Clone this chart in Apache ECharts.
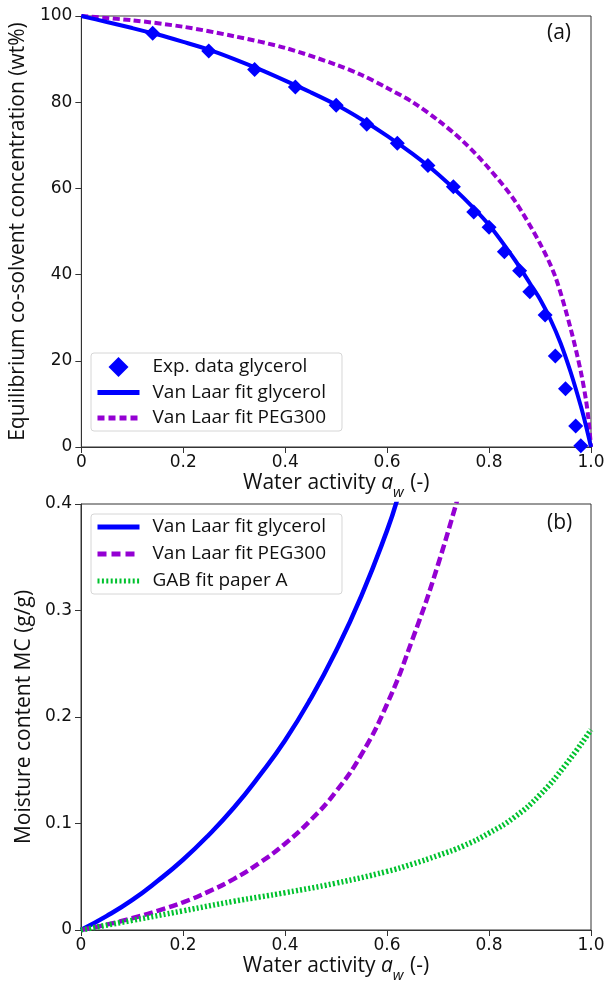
<!DOCTYPE html>
<html>
<head>
<meta charset="utf-8">
<script src="https://cdn.jsdelivr.net/npm/echarts@6/dist/echarts.min.js"></script>
<style>html,body{margin:0;padding:0;background:#fff;}#c{width:608px;height:984px;}</style>
</head>
<body>
<div id="c"></div>
<script>
// ---------- Panel (a) data ----------
const expAw   = [0.14, 0.25, 0.34, 0.42, 0.50, 0.56, 0.62, 0.68, 0.73, 0.77, 0.80, 0.83, 0.86, 0.88, 0.91, 0.93, 0.95, 0.97, 0.98];
const expConc = [96.0, 91.9, 87.6, 83.5, 79.3, 74.9, 70.5, 65.3, 60.4, 54.5, 51.0, 45.3, 40.9, 36.0, 30.6, 21.1, 13.5, 4.9, 0.3];

const fitGlyAw   = [0, 0.05, 0.1, 0.15, 0.2, 0.25, 0.3, 0.35, 0.4, 0.45, 0.5, 0.55, 0.6, 0.65, 0.7, 0.75, 0.8, 0.85, 0.88, 0.9, 0.92, 0.94, 0.96, 0.98, 0.99, 1.0];
const fitGlyConc = [100, 98.6, 97.2, 95.7, 94.0, 92.2, 90.0, 87.6, 85.0, 82.3, 79.4, 76.0, 72.2, 68.0, 63.3, 57.8, 51.5, 43.5, 38.0, 34.3, 29.7, 24.2, 17.4, 9.5, 5.0, 0];

const fitPegAw   = [0, 0.1, 0.2, 0.3, 0.4, 0.5, 0.55, 0.6, 0.65, 0.7, 0.75, 0.8, 0.85, 0.9, 0.93, 0.96, 0.98, 0.99, 0.995, 1.0];
const fitPegConc = [100, 99.0, 97.5, 95.3, 92.6, 88.7, 86.3, 83.3, 80.0, 75.8, 70.8, 64.6, 57.2, 47.2, 39.5, 27.5, 17.5, 11.0, 6.5, 0];

// ---------- Panel (b) data ----------
const mcGlyAw = [0, 0.05, 0.1, 0.15, 0.2, 0.25, 0.3, 0.35, 0.4, 0.45, 0.5, 0.55, 0.6, 0.62];
const mcGly   = [0, 0.013, 0.028, 0.046, 0.066, 0.089, 0.115, 0.145, 0.178, 0.217, 0.262, 0.314, 0.375, 0.404];

const mcPegAw = [0, 0.05, 0.1, 0.15, 0.2, 0.25, 0.3, 0.35, 0.4, 0.45, 0.5, 0.55, 0.6, 0.65, 0.7, 0.75];
const mcPeg   = [0, 0.005, 0.011, 0.018, 0.026, 0.036, 0.048, 0.063, 0.081, 0.103, 0.130, 0.165, 0.212, 0.273, 0.343, 0.425];

const mcGabAw = [0, 0.1, 0.2, 0.3, 0.35, 0.4, 0.5, 0.6, 0.65, 0.7, 0.75, 0.8, 0.85, 0.9, 0.95, 1.0];
const mcGab   = [0, 0.009, 0.018, 0.027, 0.031, 0.035, 0.044, 0.055, 0.062, 0.070, 0.079, 0.091, 0.106, 0.127, 0.155, 0.188];

// ---------- ticks / labels ----------
const xTicks = ['0', '0.2', '0.4', '0.6', '0.8', '1.0'];
const yTicksA = ['0', '20', '40', '60', '80', '100'];
const yTicksB = ['0', '0.1', '0.2', '0.3', '0.4'];
const nameExp = 'Exp. data glycerol';
const nameGly = 'Van Laar fit glycerol';
const namePeg = 'Van Laar fit PEG300';
const nameGab = 'GAB fit paper A';

const zip = (a, b) => a.map((v, i) => [v, b[i]]);

const BLUE = '#0000ff', PURPLE = '#9400d3', GREEN = '#00c22e';
const AX = '#333';
const tickFont = 'DejaVu Sans';
const textFont = 'Open Sans';
const DIAMOND = 'path://M0,-10L10,0L0,10L-10,0Z';

const xName = '{n|Water activity }{i|a}{s|w}{n| (-)}';
const xNameStyle = {
  color: '#111',
  rich: {
    n: {fontFamily: textFont, fontSize: 21, color: '#111', lineHeight: 26},
    i: {fontFamily: textFont, fontSize: 21, fontStyle: 'italic', color: '#111', lineHeight: 26},
    s: {fontFamily: textFont, fontSize: 15, fontStyle: 'italic', color: '#111', lineHeight: 26, verticalAlign: 'bottom', padding: [0, 1, -4, 0]}
  }
};

function xAxisCfg(gi) {
  return {
    type: 'value', gridIndex: gi, min: 0, max: 1, interval: 0.2,
    name: xName, nameLocation: 'middle', nameGap: 23, nameTextStyle: xNameStyle,
    axisLine: {show: true, lineStyle: {color: AX, width: 1}},
    axisTick: {show: true, length: 6, lineStyle: {color: AX}},
    axisLabel: {margin: 7, fontFamily: tickFont, fontSize: 17, color: '#111',
      formatter: v => xTicks[Math.round(v / 0.2)]},
    splitLine: {show: false}
  };
}

const legendBase = {
  orient: 'vertical', left: 91,
  backgroundColor: '#fff', borderColor: '#d6d6d6', borderWidth: 1, borderRadius: 3,
  itemWidth: 42, itemHeight: 20,
  selectedMode: false,
  textStyle: {fontFamily: textFont, fontSize: 19, color: '#111', lineHeight: 22, padding: [0, 0, 0, 8]}
};
const hideSym = {opacity: 0};

const option = {
  animation: false,
  backgroundColor: '#fff',
  grid: [
    {left: 81, right: 17, top: 16, height: 431, show: true, borderColor: AX, borderWidth: 1, containLabel: false},
    {left: 81, right: 17, top: 504, height: 430, show: true, borderColor: AX, borderWidth: 1, containLabel: false}
  ],
  xAxis: [xAxisCfg(0), xAxisCfg(1)],
  yAxis: [
    {
      type: 'value', gridIndex: 0, min: 0, max: 100, interval: 20,
      name: 'Equilibrium co-solvent concentration (wt%)', nameLocation: 'middle', nameGap: 41,
      nameTextStyle: {fontFamily: textFont, fontSize: 21, color: '#111'},
      axisLine: {show: true, lineStyle: {color: AX, width: 1}},
      axisTick: {show: true, length: 6, lineStyle: {color: AX}},
      axisLabel: {margin: 9, fontFamily: tickFont, fontSize: 17, color: '#111',
        formatter: v => yTicksA[Math.round(v / 20)]},
      splitLine: {show: false}
    },
    {
      type: 'value', gridIndex: 1, min: 0, max: 0.4, interval: 0.1,
      name: 'Moisture content MC (g/g)', nameLocation: 'middle', nameGap: 35,
      nameTextStyle: {fontFamily: textFont, fontSize: 21, color: '#111'},
      axisLine: {show: true, lineStyle: {color: AX, width: 1}},
      axisTick: {show: true, length: 6, lineStyle: {color: AX}},
      axisLabel: {margin: 9, fontFamily: tickFont, fontSize: 17, color: '#111',
        formatter: v => yTicksB[Math.round(v / 0.1)]},
      splitLine: {show: false}
    }
  ],
  legend: [
    Object.assign({}, legendBase, {
      top: 353, padding: [3, 16, 2, 4], itemGap: 3.5,
      data: [
        {name: nameExp, icon: DIAMOND, itemStyle: {color: BLUE, opacity: 1}},
        {name: nameGly, itemStyle: hideSym, lineStyle: {color: BLUE, width: 5, type: 'solid'}},
        {name: namePeg, itemStyle: hideSym, lineStyle: {color: PURPLE, width: 5, type: [7, 4]}}
      ]
    }),
    Object.assign({}, legendBase, {
      top: 514, padding: [2, 16, 2, 4], itemGap: 5,
      data: [
        {name: nameGly, itemStyle: hideSym, lineStyle: {color: BLUE, width: 5, type: 'solid'}},
        {name: namePeg, itemStyle: hideSym, lineStyle: {color: PURPLE, width: 5, type: [9, 5]}},
        {name: nameGab, itemStyle: hideSym, lineStyle: {color: GREEN, width: 5, type: [2, 2.4]}}
      ]
    })
  ],
  graphic: [
    {type: 'text', left: 547, top: 23, style: {text: '(a)', font: '21px "Open Sans"', fill: '#111'}},
    {type: 'text', left: 547, top: 513, style: {text: '(b)', font: '21px "Open Sans"', fill: '#111'}}
  ],
  series: [
    {
      name: nameGly, type: 'line', xAxisIndex: 0, yAxisIndex: 0,
      data: zip(fitGlyAw, fitGlyConc), showSymbol: false, symbol: 'none', smooth: 0.3,
      lineStyle: {color: BLUE, width: 4}, itemStyle: {color: BLUE}, z: 3
    },
    {
      name: namePeg, type: 'line', xAxisIndex: 0, yAxisIndex: 0,
      data: zip(fitPegAw, fitPegConc), showSymbol: false, symbol: 'none', smooth: 0.3,
      lineStyle: {color: PURPLE, width: 4, type: [7, 3.5]}, itemStyle: {color: PURPLE}, z: 2
    },
    {
      name: nameExp, type: 'scatter', xAxisIndex: 0, yAxisIndex: 0,
      data: zip(expAw, expConc), symbol: 'diamond', symbolSize: 15,
      itemStyle: {color: BLUE, opacity: 1}, z: 4
    },
    {
      name: nameGly, type: 'line', xAxisIndex: 1, yAxisIndex: 1,
      data: zip(mcGlyAw, mcGly), showSymbol: false, symbol: 'none', smooth: true,
      lineStyle: {color: BLUE, width: 4.5}, itemStyle: {color: BLUE}, z: 3
    },
    {
      name: namePeg, type: 'line', xAxisIndex: 1, yAxisIndex: 1,
      data: zip(mcPegAw, mcPeg), showSymbol: false, symbol: 'none', smooth: true,
      lineStyle: {color: PURPLE, width: 4.5, type: [9, 4]}, itemStyle: {color: PURPLE}, z: 3
    },
    {
      name: nameGab, type: 'line', xAxisIndex: 1, yAxisIndex: 1,
      data: zip(mcGabAw, mcGab), showSymbol: false, symbol: 'none', smooth: true,
      lineStyle: {color: GREEN, width: 5.5, type: [2, 2.2]}, itemStyle: {color: GREEN}, z: 3
    }
  ]
};

const chart = echarts.init(document.getElementById('c'), null, {renderer: 'canvas'});
chart.setOption(option);
</script>
</body>
</html>
